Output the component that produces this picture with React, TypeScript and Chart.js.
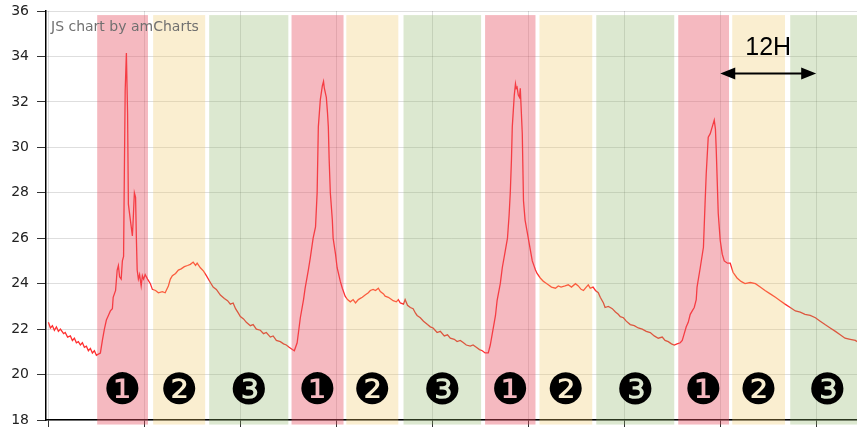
import React, { useEffect, useRef } from "react";
import { Chart, registerables } from "chart.js";

Chart.register(...registerables);

// Elapsed time (hours) and temperature readings (°C)
const hours = [
  0, 0.25, 0.5, 0.75, 1, 1.25, 1.5, 1.9, 2.1, 2.4,
  2.75, 3, 3.25, 3.5, 3.75, 4, 4.25, 4.5, 4.75, 5,
  5.25, 5.5, 5.75, 6, 6.25, 6.5, 6.75, 7, 7.25, 7.5,
  7.75, 8, 8.1, 8.4, 8.6, 8.75, 8.9, 9.1, 9.25, 9.4,
  9.5, 9.6, 9.75, 9.9, 10, 10.25, 10.5, 10.6, 10.75, 10.9,
  11, 11.1, 11.25, 11.4, 11.6, 11.75, 11.9, 12.1, 12.4, 12.75,
  13, 13.4, 13.75, 14.25, 14.6, 15, 15.25, 15.5, 15.9, 16.25,
  16.6, 17, 17.4, 17.75, 18.1, 18.4, 18.6, 19, 19.4, 19.75,
  20.25, 20.6, 21, 21.5, 22, 22.4, 22.75, 23.1, 23.4, 23.75,
  24, 24.4, 24.75, 25.25, 25.6, 26, 26.5, 26.9, 27.25, 27.75,
  28.1, 28.5, 29, 29.4, 29.75, 30.1, 30.5, 30.75, 31.1, 31.5,
  31.9, 32.1, 32.5, 32.75, 33.1, 33.4, 33.6, 33.75, 34, 34.25,
  34.4, 34.5, 34.75, 34.9, 35, 35.1, 35.25, 35.5, 35.6, 35.9,
  36.1, 36.5, 36.75, 37.1, 37.4, 37.75, 38.1, 38.4, 38.75, 39,
  39.25, 39.6, 40, 40.25, 40.6, 40.9, 41.25, 41.5, 41.9, 42.1,
  42.5, 42.9, 43.1, 43.5, 43.75, 44, 44.4, 44.6, 44.9, 45.25,
  45.6, 45.9, 46.1, 46.5, 46.9, 47.4, 47.75, 48.1, 48.6, 49,
  49.5, 49.9, 50.25, 50.75, 51.1, 51.5, 51.9, 52.25, 52.75, 53.1,
  53.5, 53.9, 54.25, 54.6, 55, 55.25, 55.5, 55.9, 56.1, 56.5,
  56.75, 57.1, 57.4, 57.6, 57.75, 57.9, 58, 58.25, 58.4, 58.5,
  58.6, 58.75, 58.9, 59, 59.1, 59.25, 59.4, 59.6, 59.9, 60.25,
  60.5, 60.9, 61.1, 61.5, 61.9, 62.1, 62.5, 62.9, 63.4, 63.75,
  64.1, 64.6, 65, 65.4, 65.9, 66.25, 66.6, 66.9, 67.25, 67.5,
  67.75, 68.1, 68.4, 68.75, 69, 69.4, 69.6, 70, 70.25, 70.5,
  70.9, 71.25, 71.5, 71.9, 72.25, 72.75, 73.25, 73.75, 74.25, 74.75,
  75.25, 75.75, 76.25, 76.75, 77.1, 77.5, 77.9, 78.25, 78.6, 79,
  79.25, 79.5, 79.75, 80, 80.25, 80.5, 80.75, 81, 81.1, 81.5,
  81.9, 82.1, 82.25, 82.5, 82.75, 83, 83.25, 83.4, 83.5, 83.75,
  84, 84.25, 84.5, 84.9, 85.25, 85.6, 86.1, 86.6, 87.1, 87.75,
  88.4, 89, 89.6, 90.25, 90.9, 91.5, 92.1, 92.75, 93.4, 94,
  94.6, 95.25, 95.9, 96.5, 97.1, 97.75, 98.4, 99, 99.6, 100.25,
  100.9, 101.1,
];

const temps = [
  22.3, 22.05, 22.15, 21.95, 22.1, 21.9, 22.0, 21.8, 21.85, 21.65,
  21.7, 21.5, 21.6, 21.4, 21.45, 21.3, 21.4, 21.2, 21.25, 21.05,
  21.15, 20.95, 21.05, 20.85, 20.9, 20.95, 21.5, 22.0, 22.4, 22.6,
  22.8, 22.9, 23.4, 23.7, 24.6, 24.8, 24.3, 24.2, 25.0, 25.2,
  29.0, 32.5, 34.15, 31.5, 27.5, 26.8, 26.1, 26.8, 28.0, 27.8,
  26.0, 24.6, 24.2, 24.4, 23.9, 24.35, 24.2, 24.4, 24.2, 24.0,
  23.75, 23.7, 23.6, 23.65, 23.6, 23.9, 24.2, 24.35, 24.45, 24.6,
  24.65, 24.75, 24.8, 24.85, 24.95, 24.8, 24.9, 24.7, 24.55, 24.35,
  24.05, 23.85, 23.75, 23.5, 23.35, 23.25, 23.1, 23.15, 22.9, 22.7,
  22.55, 22.45, 22.3, 22.15, 22.2, 22.0, 21.95, 21.8, 21.85, 21.65,
  21.7, 21.5, 21.45, 21.35, 21.3, 21.2, 21.1, 21.05, 21.4, 22.5,
  23.3, 23.8, 24.6, 25.15, 26.0, 26.5, 28.0, 30.9, 32.1, 32.7,
  32.9, 32.6, 32.2, 31.5, 30.9, 29.5, 28.0, 26.8, 26.0, 25.3,
  24.7, 24.1, 23.8, 23.45, 23.3, 23.2, 23.3, 23.15, 23.3, 23.35,
  23.4, 23.5, 23.6, 23.7, 23.75, 23.7, 23.8, 23.65, 23.55, 23.45,
  23.4, 23.3, 23.25, 23.2, 23.3, 23.15, 23.1, 23.3, 23.05, 22.95,
  22.9, 22.7, 22.6, 22.5, 22.35, 22.2, 22.1, 22.05, 21.85, 21.9,
  21.7, 21.75, 21.6, 21.55, 21.45, 21.5, 21.4, 21.3, 21.25, 21.3,
  21.2, 21.1, 21.05, 20.95, 20.95, 21.3, 21.8, 22.6, 23.25, 24.0,
  24.7, 25.4, 26.0, 27.0, 28.0, 29.5, 30.9, 32.3, 32.8, 32.6,
  32.65, 32.3, 32.2, 32.6, 31.8, 30.6, 27.65, 26.8, 26.2, 25.5,
  25.0, 24.6, 24.45, 24.25, 24.1, 24.05, 23.95, 23.85, 23.8, 23.9,
  23.85, 23.9, 23.95, 23.85, 24.0, 23.9, 23.75, 23.7, 23.85, 23.95,
  23.8, 23.85, 23.7, 23.6, 23.4, 23.15, 22.95, 23.0, 22.95, 22.9,
  22.75, 22.65, 22.55, 22.5, 22.35, 22.2, 22.15, 22.05, 22.0, 21.9,
  21.85, 21.7, 21.6, 21.65, 21.5, 21.45, 21.35, 21.3, 21.35, 21.4,
  21.5, 21.8, 22.1, 22.3, 22.65, 22.8, 22.95, 23.3, 23.85, 24.7,
  25.6, 27.5, 28.85, 30.45, 30.6, 30.9, 31.2, 30.8, 29.9, 27.1,
  25.9, 25.3, 25.0, 24.9, 24.9, 24.5, 24.25, 24.1, 24.0, 24.05,
  24.0, 23.85, 23.7, 23.55, 23.4, 23.25, 23.1, 22.95, 22.8, 22.75,
  22.65, 22.6, 22.5, 22.35, 22.2, 22.05, 21.9, 21.75, 21.6, 21.55,
  21.5, 21.45,
];

// Phase bands (hours)
const phaseStart = [6.1, 13.1, 20.1, 30.4, 37.25, 44.4, 54.6, 61.4, 68.5, 78.75, 85.5, 92.75];
const phaseEnd = [12.45, 19.6, 30.0, 36.9, 43.75, 54.1, 60.9, 68.0, 78.25, 85.1, 92.1, 102];
const phaseNo = [1, 2, 3, 1, 2, 3, 1, 2, 3, 1, 2, 3];
const phaseMarks = ["❶", "❷", "❸"];
const phaseColors = ["rgba(230,80,97,0.4)", "rgba(240,200,100,0.3)", "rgba(140,180,100,0.3)"];

// Axis settings
const yMin = 18;
const yMax = 36;
const yStep = 2;
const xMin = -0.3;
const xMax = 101.1;
const xStep = 12;

// Annotation
const spanLabel = "12H";
const spanFrom = 84;
const spanTo = 96;
const watermark = "JS chart by amCharts";

const bandTop = 35.82;
const bandBottom = 17.8;
const markLevel = 19.2;
const spanArrowLevel = 33.25;
const spanTextLevel = 34.35;

const overlayPlugin = {
  id: "phaseOverlay",
  afterDatasetsDraw(chart: any) {
    const { ctx, scales } = chart;
    const x = scales.x;
    const y = scales.y;
    const top = y.getPixelForValue(bandTop);
    const bottom = y.getPixelForValue(bandBottom);
    ctx.save();
    for (let i = 0; i < phaseStart.length; i++) {
      const l = x.getPixelForValue(phaseStart[i]);
      const r = x.getPixelForValue(phaseEnd[i]);
      ctx.fillStyle = phaseColors[phaseNo[i] - 1];
      ctx.fillRect(l, top, r - l, bottom - top);
    }
    ctx.fillStyle = "#000";
    ctx.font = "43px 'DejaVu Sans'";
    ctx.textAlign = "center";
    ctx.textBaseline = "middle";
    const my = y.getPixelForValue(markLevel);
    for (let i = 0; i < phaseStart.length; i++) {
      const l = x.getPixelForValue(phaseStart[i]);
      const r = x.getPixelForValue(phaseEnd[i]);
      ctx.fillText(phaseMarks[phaseNo[i] - 1], (l + r) / 2, my);
    }
    ctx.restore();
  },
  afterDraw(chart: any) {
    const { ctx, scales } = chart;
    const x = scales.x;
    const y = scales.y;
    ctx.save();
    // watermark
    ctx.fillStyle = "#707070";
    ctx.font = "14px 'DejaVu Sans'";
    ctx.textAlign = "left";
    ctx.textBaseline = "alphabetic";
    ctx.fillText(watermark, chart.chartArea.left + 5, 31);
    // span arrow
    const x1 = x.getPixelForValue(spanFrom);
    const x2 = x.getPixelForValue(spanTo);
    const ay = y.getPixelForValue(spanArrowLevel);
    ctx.strokeStyle = "#000";
    ctx.fillStyle = "#000";
    ctx.lineWidth = 2;
    ctx.beginPath();
    ctx.moveTo(x1 + 8, ay);
    ctx.lineTo(x2 - 8, ay);
    ctx.stroke();
    const head = 15;
    const hw = 6;
    ctx.beginPath();
    ctx.moveTo(x1, ay);
    ctx.lineTo(x1 + head, ay - hw);
    ctx.lineTo(x1 + head, ay + hw);
    ctx.closePath();
    ctx.fill();
    ctx.beginPath();
    ctx.moveTo(x2, ay);
    ctx.lineTo(x2 - head, ay - hw);
    ctx.lineTo(x2 - head, ay + hw);
    ctx.closePath();
    ctx.fill();
    ctx.font = "25px 'Liberation Sans'";
    ctx.textAlign = "center";
    ctx.textBaseline = "middle";
    ctx.fillText(spanLabel, (x1 + x2) / 2, y.getPixelForValue(spanTextLevel));
    ctx.restore();
  },
};

export default function App() {
  const canvasRef = useRef<HTMLCanvasElement | null>(null);

  useEffect(() => {
    document.body.style.margin = "0";
    document.body.style.overflow = "hidden";
    const canvas = canvasRef.current;
    if (!canvas) return;
    const n = Math.min(hours.length, temps.length);
    const points = [];
    for (let i = 0; i < n; i++) points.push({ x: hours[i], y: temps[i] });

    const chart = new Chart(canvas, {
      type: "line",
      data: {
        datasets: [
          {
            data: points,
            borderColor: "#ff3030",
            borderWidth: 1.3,
            pointRadius: 0,
            tension: 0,
            fill: false,
          },
        ],
      },
      options: {
        animation: false,
        responsive: false,
        devicePixelRatio: 1,
        layout: { padding: { top: 11, left: 0, right: 0, bottom: 0 } },
        plugins: {
          legend: { display: false },
          tooltip: { enabled: false },
        },
        scales: {
          x: {
            type: "linear",
            min: xMin,
            max: xMax,
            ticks: { display: false, stepSize: xStep, includeBounds: false },
            grid: {
              color: "rgba(0,0,0,0.13)",
              tickColor: "#333",
              tickLength: 7,
            },
            border: { color: "#000", width: 1.5 },
            afterFit: (scale: any) => {
              scale.height = 7;
              scale.paddingTop = 0;
              scale.paddingBottom = 0;
              scale.paddingLeft = 0;
              scale.paddingRight = 0;
            },
          },
          y: {
            min: yMin,
            max: yMax,
            ticks: {
              stepSize: yStep,
              padding: 8,
              color: "#222",
              font: { family: "'DejaVu Sans'", size: 14, lineHeight: 1 },
            },
            grid: {
              color: "rgba(0,0,0,0.13)",
              tickColor: "#333",
              tickLength: 9,
            },
            border: { color: "#000", width: 1.5 },
            afterFit: (scale: any) => {
              scale.width = 46;
              scale.paddingTop = 0;
              scale.paddingBottom = 0;
            },
          },
        },
      },
      plugins: [overlayPlugin],
    });
    return () => chart.destroy();
  }, []);

  return (
    <div style={{ position: "fixed", left: 0, top: 0, width: 857, height: 427 }}>
      <canvas ref={canvasRef} width={857} height={427} style={{ display: "block" }} />
    </div>
  );
}
